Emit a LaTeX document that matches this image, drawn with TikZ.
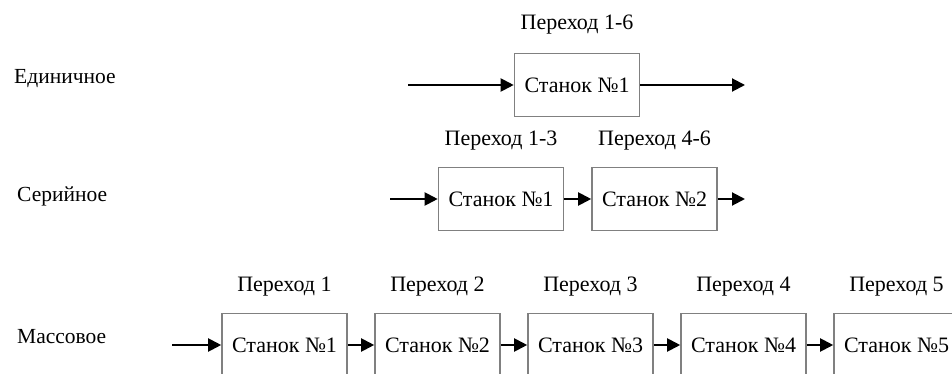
\documentclass[tikz,border=0pt]{standalone}
\usepackage{fontspec}
\setmainfont{Liberation Serif}
\usetikzlibrary{arrows.meta}
\begin{document}
\begin{tikzpicture}[x=1pt,y=-1pt,
  stanok/.style={draw=black!50, line width=1.6pt, minimum width=125pt, minimum height=63pt, inner sep=0pt, font=\fontsize{22}{26}\selectfont},
  lbl/.style={font=\fontsize{22}{26}\selectfont, inner sep=0pt, anchor=base},
  kind/.style={font=\fontsize{21.5}{26}\selectfont, inner sep=0pt, anchor=base west},
  flow/.style={line width=2pt, -{Triangle[length=13pt,width=13pt]}}]
\useasboundingbox (0,0) rectangle (952,374);
% row 1
\node[kind] (k1) at (14,84) {Единичное};
\node[stanok] (s11) at (577,85) {Станок №1};
\node[lbl] (p11) at (577,30) {Переход 1-6};
\coordinate (in1) at (408,85);
\coordinate (out1) at (745,85);
\draw[flow] (in1) -- (s11);
\draw[flow] (s11) -- (out1);
% row 2
\node[kind] (k2) at (17,201) {Серийное};
\node[stanok] (s21) at (501,199) {Станок №1};
\node[stanok] (s22) at (654.5,199) {Станок №2};
\node[lbl] (p21) at (501,146) {Переход 1-3};
\node[lbl] (p22) at (654.5,146) {Переход 4-6};
\coordinate (in2) at (390,199);
\coordinate (out2) at (745,199);
\draw[flow] (in2) -- (s21);
\draw[flow] (s21) -- (s22);
\draw[flow] (s22) -- (out2);
% row 3
\node[kind] (k3) at (17,343) {Массовое};
\foreach \i/\x in {1/284.5,2/437.5,3/590.5,4/743.5,5/896.5}{
  \node[stanok] (s3\i) at (\x,345) {Станок №\i};
  \node[lbl] (p3\i) at (\x,291) {Переход \i};
}
\coordinate (in3) at (172,345);
\draw[flow] (in3) -- (s31);
\draw[flow] (s31) -- (s32);
\draw[flow] (s32) -- (s33);
\draw[flow] (s33) -- (s34);
\draw[flow] (s34) -- (s35);
\end{tikzpicture}
\end{document}
